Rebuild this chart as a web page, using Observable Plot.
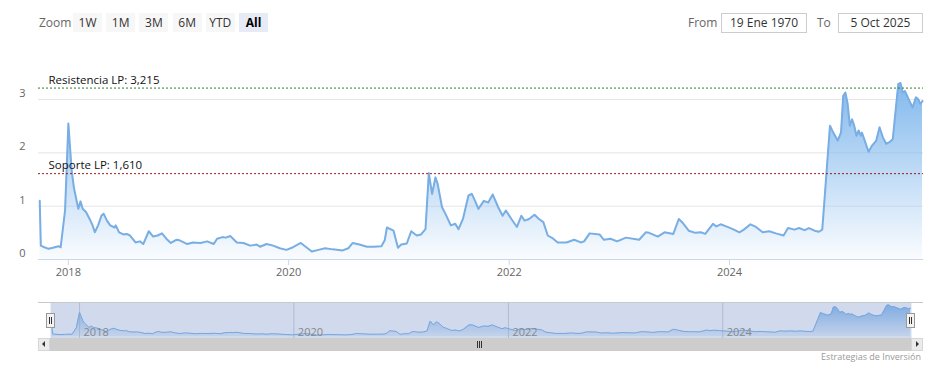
<!DOCTYPE html>
<html><head><meta charset="utf-8">
<script src="https://cdn.jsdelivr.net/npm/d3@7"></script>
<script src="https://cdn.jsdelivr.net/npm/@observablehq/plot@0.6"></script>
<style>
body{margin:0;background:#fff;font-family:"Open Sans",sans-serif;}
#wrap{position:relative;width:943px;height:370px;overflow:hidden;background:#fff;}
#main,#nav{position:absolute;left:0;}
#main{top:0}
#nav{top:290px}
.lbl{position:absolute;font-size:12px;color:#666;line-height:19px;top:13px;}
.btn{position:absolute;top:13px;height:19px;width:29px;background:#f7f7f7;color:#333;font-size:12px;text-align:center;line-height:19px;}
.sel{background:#e6ebf5;font-weight:bold;color:#000}
.inp{position:absolute;top:13px;border:1px solid #ccc;font-size:12px;color:#333;text-align:center;line-height:18px;box-sizing:border-box;height:20px;}
.abs{position:absolute;box-sizing:border-box;}
</style></head>
<body><div id="wrap"><div id="main"></div><div id="nav"></div></div>
<script>
// ---- data (decimal years, values) ----
const years = [2017.74,2017.75,2017.77,2017.82,2017.86,2017.91,2017.93,2017.97,2018.00,2018.03,
2018.05,2018.09,2018.11,2018.13,2018.16,2018.20,2018.22,2018.24,2018.27,2018.30,
2018.32,2018.35,2018.38,2018.42,2018.43,2018.46,2018.50,2018.53,2018.56,2018.61,
2018.65,2018.68,2018.73,2018.77,2018.81,2018.85,2018.89,2018.93,2018.98,2019.01,
2019.08,2019.13,2019.20,2019.26,2019.32,2019.35,2019.40,2019.43,2019.47,2019.53,
2019.59,2019.65,2019.71,2019.74,2019.80,2019.86,2019.92,2019.98,2020.04,2020.11,
2020.16,2020.21,2020.27,2020.33,2020.40,2020.49,2020.54,2020.58,2020.64,2020.71,
2020.77,2020.84,2020.87,2020.89,2020.95,2020.99,2021.02,2021.07,2021.11,2021.16,
2021.20,2021.24,2021.27,2021.30,2021.33,2021.35,2021.39,2021.42,2021.47,2021.51,
2021.54,2021.58,2021.63,2021.66,2021.69,2021.72,2021.77,2021.81,2021.85,2021.90,
2021.94,2021.97,2022.02,2022.07,2022.11,2022.14,2022.18,2022.23,2022.27,2022.31,
2022.35,2022.40,2022.44,2022.52,2022.59,2022.65,2022.68,2022.73,2022.82,2022.86,
2022.92,2022.98,2023.06,2023.18,2023.24,2023.27,2023.35,2023.41,2023.49,2023.54,
2023.57,2023.63,2023.69,2023.74,2023.78,2023.85,2023.88,2023.92,2023.97,2024.03,
2024.09,2024.13,2024.19,2024.24,2024.30,2024.36,2024.42,2024.49,2024.53,2024.59,
2024.63,2024.68,2024.72,2024.77,2024.81,2024.84,2024.87,2024.91,2024.94,2024.98,
2025.01,2025.03,2025.05,2025.07,2025.09,2025.11,2025.13,2025.15,2025.17,2025.19,
2025.20,2025.23,2025.26,2025.29,2025.33,2025.36,2025.39,2025.42,2025.45,2025.48,
2025.51,2025.53,2025.55,2025.57,2025.59,2025.63,2025.66,2025.69,2025.71,2025.73,
2025.75];
const values = [1.10,0.26,0.24,0.20,0.22,0.25,0.23,0.92,2.55,1.67,
1.35,0.95,1.09,0.95,0.89,0.73,0.64,0.51,0.64,0.82,
0.86,0.73,0.64,0.60,0.64,0.51,0.47,0.48,0.45,0.32,
0.34,0.29,0.53,0.43,0.45,0.49,0.39,0.31,0.37,0.36,
0.29,0.32,0.31,0.34,0.29,0.39,0.42,0.41,0.44,0.32,
0.31,0.26,0.28,0.24,0.29,0.26,0.21,0.18,0.23,0.31,
0.23,0.15,0.18,0.21,0.19,0.17,0.21,0.31,0.28,0.24,
0.24,0.25,0.36,0.60,0.54,0.22,0.28,0.30,0.53,0.45,
0.47,0.57,1.62,1.23,1.54,1.42,0.98,0.86,0.64,0.67,
0.57,0.76,1.20,1.23,1.10,0.95,1.10,1.07,1.22,0.98,
0.82,0.92,0.76,0.61,0.82,0.73,0.76,0.84,0.76,0.70,
0.45,0.39,0.32,0.32,0.37,0.32,0.34,0.49,0.47,0.37,
0.39,0.34,0.41,0.37,0.51,0.50,0.43,0.51,0.48,0.76,
0.70,0.54,0.50,0.51,0.48,0.67,0.62,0.66,0.62,0.57,
0.51,0.56,0.66,0.61,0.51,0.53,0.49,0.45,0.59,0.56,
0.59,0.55,0.59,0.54,0.52,0.56,1.39,2.51,2.38,2.23,
2.38,3.07,3.13,2.92,2.51,2.63,2.51,2.32,2.42,2.32,
2.38,2.20,2.02,2.13,2.23,2.48,2.29,2.17,2.20,2.26,
2.88,3.29,3.31,3.13,3.16,2.98,2.85,3.04,3.01,2.92,
2.97];
const levelLabels = ["Resistencia LP: 3,215", "Soporte LP: 1,610"];
const levelValues = [3.215, 1.610];
const levelColors = ["#2e7d32", "#9b1b1b"];
const xTickYears = [2018, 2020, 2022, 2024];
const yTicks = [0, 1, 2, 3];
const rangeButtons = ["1W", "1M", "3M", "6M", "YTD", "All"];
const fromText = "19 Ene 1970", toText = "5 Oct 2025";
const startDate = "2017-09-24", endDate = "2025-10-05";
const credits = "Estrategias de Inversión";

// ---- build ----
const toDate = y => { const y0 = Math.floor(y); const a = Date.UTC(y0,0,1), b = Date.UTC(y0+1,0,1); return new Date(a + (y - y0) * (b - a)); };
const data = years.map((y, i) => ({date: toDate(y), value: values[i]}));
const levels = levelValues.map((v, i) => ({value: v, label: levelLabels[i], color: levelColors[i]}));
const xTicks = xTickYears.map(y => new Date(Date.UTC(y, 0, 1)));
const xDomain = [new Date(startDate), new Date(endDate)];
const NS = "http://www.w3.org/2000/svg";
function gradient(id, top, bottom) {
  return () => {
    const defs = document.createElementNS(NS, "defs");
    const g = document.createElementNS(NS, "linearGradient");
    g.setAttribute("id", id); g.setAttribute("x1", "0"); g.setAttribute("y1", "0"); g.setAttribute("x2", "0"); g.setAttribute("y2", "1");
    [[0, top], [1, bottom]].forEach(([o, op]) => {
      const s = document.createElementNS(NS, "stop");
      s.setAttribute("offset", o); s.setAttribute("stop-color", "#7cb5ec"); s.setAttribute("stop-opacity", op);
      g.appendChild(s);
    });
    defs.appendChild(g);
    return defs;
  };
}
const font = {fontFamily: "'Open Sans', sans-serif", fontSize: "11px", background: "transparent", overflow: "visible"};

const main = Plot.plot({
  width: 943, height: 290,
  marginLeft: 38, marginRight: 20, marginTop: 77.7, marginBottom: 31,
  style: font,
  x: {type: "utc", domain: xDomain, label: null},
  y: {domain: [0, 3.4], label: null},
  color: {type: "identity"},
  marks: [
    gradient("grad", 0.95, 0.04),
    Plot.gridY(yTicks, {stroke: "#e6e6e6", strokeOpacity: 1}),
    Plot.areaY(data, {x: "date", y: "value", fill: "url(#grad)"}),
    Plot.lineY(data, {x: "date", y: "value", stroke: "#78aee4", strokeWidth: 2}),
    Plot.ruleY(levels, {y: "value", stroke: "color", strokeDasharray: "2,2", strokeWidth: 1}),
    Plot.text(levels, {y: "value", text: "label", frameAnchor: "left", textAnchor: "start", dx: 10, dy: -8, fill: "#111", fontSize: 11.5}),
    Plot.ruleY([0], {stroke: "#ccd6eb"}),
    Plot.axisY({ticks: yTicks, label: null, tickSize: 0, tickPadding: 13, dy: -6, fill: "#666", fontSize: 11, tickFormat: d3.format("d")}),
    Plot.axisX({ticks: xTicks, label: null, tickFormat: d3.utcFormat("%Y"), tickSize: 6, tickPadding: 3, stroke: "#ccd6eb", fill: "#666", fontSize: 11})
  ]
});
document.getElementById("main").appendChild(main);

const nav = Plot.plot({
  width: 943, height: 80,
  marginLeft: 50, marginRight: 32, marginTop: 12, marginBottom: 32,
  style: font,
  x: {type: "utc", domain: xDomain, label: null},
  y: {domain: [-0.21, 3.57], axis: null},
  marks: [
    gradient("gradNav", 0.9, 0.15),
    Plot.areaY(data, {x: "date", y: "value", fill: "url(#gradNav)"}),
    Plot.lineY(data, {x: "date", y: "value", stroke: "#7cb5ec", strokeWidth: 1}),
    Plot.frame({fill: "rgb(102,133,194)", fillOpacity: 0.3, stroke: null}),
    Plot.gridX(xTicks, {stroke: "#9aa6c2", strokeOpacity: 0.6}),
    Plot.axisX({ticks: xTicks, label: null, tickFormat: d3.utcFormat("%Y"), tickSize: 0, tickPadding: 0, textAnchor: "start", lineAnchor: "bottom", dx: 4, dy: -3, fill: "#888", fontSize: 11, anchor: "bottom"})
  ]
});
document.getElementById("nav").appendChild(nav);

// ---- toolbar / navigator chrome ----
const wrap = document.getElementById("wrap");
function el(cls, style, text) { const d = document.createElement("div"); d.className = cls; Object.assign(d.style, style); if (text != null) d.textContent = text; wrap.appendChild(d); return d; }
el("lbl", {left: "39px"}, "Zoom");
rangeButtons.forEach((b, i) => el("btn" + (b === "All" ? " sel" : ""), {left: (73 + i * 33.2) + "px"}, b));
el("lbl", {left: "688px"}, "From");
el("inp", {left: "721px", width: "86px"}, fromText);
el("lbl", {left: "817px"}, "To");
el("inp", {left: "838px", width: "85px"}, toText);
// navigator outline
el("abs", {left: "38px", top: "302px", width: "885px", height: "1px", background: "#c8c8c8"});
// scrollbar
el("abs", {left: "38px", top: "338px", width: "885px", height: "13px", background: "#f2f2f2"});
el("abs", {left: "50px", top: "338px", width: "861px", height: "13px", background: "#cdcdcd"});
el("abs", {left: "38px", top: "338px", width: "12px", height: "13px", background: "#ebebeb", border: "1px solid #d6d6d6"});
el("abs", {left: "911px", top: "338px", width: "12px", height: "13px", background: "#ebebeb", border: "1px solid #d6d6d6"});
el("abs", {left: "42px", top: "341px", width: "0", height: "0", borderTop: "3px solid transparent", borderBottom: "3px solid transparent", borderRight: "3px solid #333"});
el("abs", {left: "916px", top: "341px", width: "0", height: "0", borderTop: "3px solid transparent", borderBottom: "3px solid transparent", borderLeft: "3px solid #333"});
[-2, 0, 2].forEach(o => el("abs", {left: (479 + o) + "px", top: "341px", width: "1px", height: "7px", background: "#333"}));
// handles
[50, 910].forEach(x => {
  el("abs", {left: (x - 4) + "px", top: "313px", width: "9px", height: "15px", background: "#f2f2f2", border: "1px solid #999"});
  el("abs", {left: (x - 1) + "px", top: "317px", width: "1px", height: "7px", background: "#333"});
  el("abs", {left: (x + 1) + "px", top: "317px", width: "1px", height: "7px", background: "#333"});
});
el("abs", {right: "22px", top: "350px", fontSize: "9px", color: "#999", whiteSpace: "nowrap"}, credits);
</script>
</body></html>
